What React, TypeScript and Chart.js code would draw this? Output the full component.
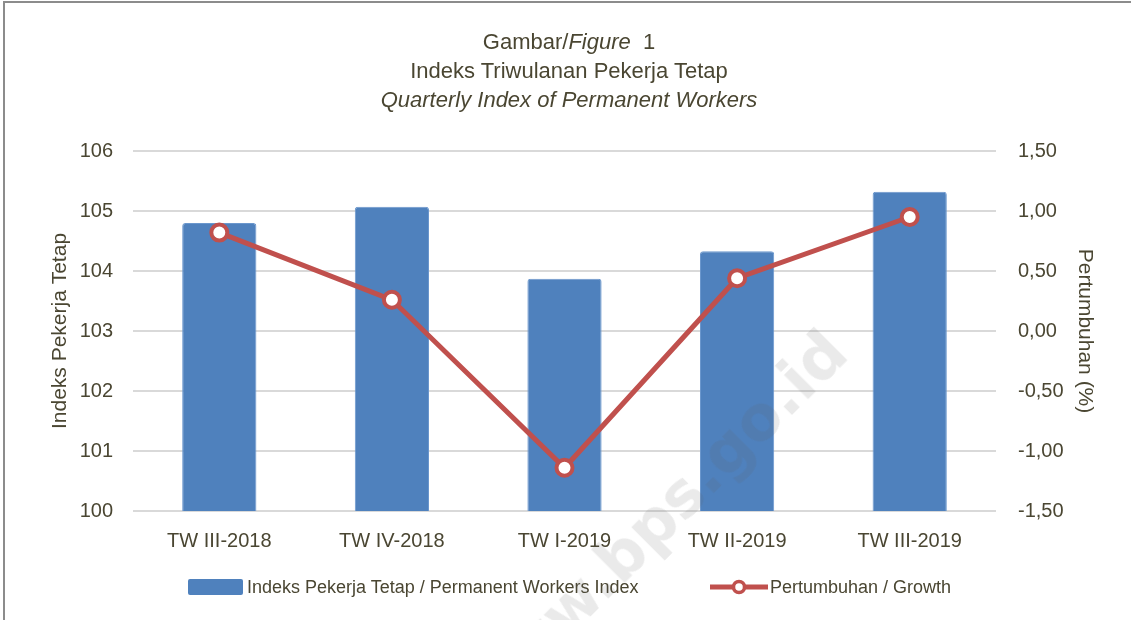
import React, { useEffect, useRef } from 'react';
import { Chart, registerables } from 'chart.js';

Chart.register(...registerables);

const categories = ['TW III-2018', 'TW IV-2018', 'TW I-2019', 'TW II-2019', 'TW III-2019'];
const indexValues = [104.8, 105.07, 103.87, 104.33, 105.32];
const growthValues = [0.82, 0.26, -1.14, 0.44, 0.95];
const leftMin = 100;
const leftMax = 106;
const rightMin = -1.5;
const rightMax = 1.5;

const TEXT = '#4a4632';
const FONT = '"Liberation Sans", Tahoma, sans-serif';
const BAR = '#4f81bd';
const LINE = '#c0504d';

export default function App() {
  const canvasRef = useRef<HTMLCanvasElement | null>(null);

  useEffect(() => {
    document.body.style.margin = '0';
    const canvas = canvasRef.current;
    if (!canvas) return;
    const chart = new Chart(canvas, {
      data: {
        labels: categories,
        datasets: [
          {
            type: 'line',
            label: 'Pertumbuhan / Growth',
            data: growthValues,
            yAxisID: 'y2',
            borderColor: LINE,
            borderWidth: 5,
            pointRadius: 8,
            pointBorderWidth: 4,
            pointBackgroundColor: '#ffffff',
            pointBorderColor: LINE,
            tension: 0,
            order: 0,
          },
          {
            type: 'bar',
            label: 'Indeks Pekerja Tetap / Permanent Workers Index',
            data: indexValues,
            yAxisID: 'y',
            backgroundColor: BAR,
            borderColor: '#6b97cd',
            borderWidth: 1,
            borderRadius: 3,
            borderSkipped: false,
            categoryPercentage: 1,
            barPercentage: 0.43,
            order: 1,
          },
        ],
      } as any,
      options: {
        responsive: false,
        animation: false,
        layout: { padding: { top: 151, bottom: 0, left: 0, right: 0 } },
        plugins: {
          legend: { display: false },
          title: { display: false },
          tooltip: { enabled: false },
        },
        scales: {
          x: {
            grid: { display: false, drawTicks: false },
            border: { display: false },
            ticks: { color: TEXT, font: { family: FONT, size: 20 }, padding: 18, maxRotation: 0 },
            afterFit: (s: any) => { s.height = 109; },
          },
          y: {
            position: 'left',
            min: leftMin,
            max: leftMax,
            ticks: { stepSize: 1, color: TEXT, font: { family: FONT, size: 20 }, padding: 20 },
            grid: { color: '#d9d9d9', lineWidth: 2, drawTicks: false },
            border: { display: false },
            title: {
              display: true,
              text: 'Indeks Pekerja Tetap',
              color: TEXT,
              font: { family: FONT, size: 21 },
              padding: { top: 48, bottom: 0 },
            },
            afterFit: (s: any) => { s.width = 133; },
          },
          y2: {
            position: 'right',
            min: rightMin,
            max: rightMax,
            ticks: {
              stepSize: 0.5,
              color: TEXT,
              font: { family: FONT, size: 20 },
              padding: 22,
              callback: (v: any) => Number(v).toFixed(2).replace('.', ','),
            },
            grid: { display: false, drawTicks: false },
            border: { display: false },
            title: {
              display: true,
              text: 'Pertumbuhan (%)',
              color: TEXT,
              font: { family: FONT, size: 21 },
              padding: { top: 34, bottom: 0 },
            },
            afterFit: (s: any) => { s.width = 135; },
          },
        },
      } as any,
    });
    return () => chart.destroy();
  }, []);

  return (
    <div style={{ position: 'fixed', left: 0, top: 0, width: 1131, height: 620, overflow: 'hidden', background: '#fff', fontFamily: FONT, color: TEXT }}>
      <div style={{ position: 'absolute', left: 3, top: 1, width: 1300, height: 800, border: '2px solid #8c8c8c', boxSizing: 'border-box' }} />
      <canvas ref={canvasRef} width={1131} height={620} style={{ position: 'absolute', left: 0, top: 0 }} />
      <div style={{ position: 'absolute', left: 0, top: 27, width: 1138, textAlign: 'center', fontSize: 22, lineHeight: '29px' }}>
        <div>Gambar/<i>Figure</i>&nbsp; 1</div>
        <div>Indeks Triwulanan Pekerja Tetap</div>
        <div><i>Quarterly Index of Permanent Workers</i></div>
      </div>
      <div style={{ position: 'absolute', left: 188, top: 576, height: 22, display: 'flex', alignItems: 'center', fontSize: 18, whiteSpace: 'nowrap' }}>
        <span style={{ display: 'inline-block', width: 55, height: 16, background: BAR, borderRadius: 2, marginRight: 4 }} />
        <span>Indeks Pekerja Tetap / Permanent Workers Index</span>
      </div>
      <div style={{ position: 'absolute', left: 710, top: 576, height: 22, display: 'flex', alignItems: 'center', fontSize: 18, whiteSpace: 'nowrap' }}>
        <svg width={58} height={22} style={{ marginRight: 2 }}>
          <line x1={0} y1={11} x2={58} y2={11} stroke={LINE} strokeWidth={5} />
          <circle cx={29} cy={11} r={5.5} fill="#fff" stroke={LINE} strokeWidth={3.5} />
        </svg>
        <span>Pertumbuhan / Growth</span>
      </div>
      <div style={{ position: 'absolute', left: 470, top: 670, transform: 'rotate(-45deg)', transformOrigin: 'left center', fontSize: 62, fontWeight: 'bold', fontFamily: '"DejaVu Sans", sans-serif', color: 'rgba(90,90,90,0.13)', whiteSpace: 'nowrap', pointerEvents: 'none' }}>
        www.bps.go.id
      </div>
    </div>
  );
}
